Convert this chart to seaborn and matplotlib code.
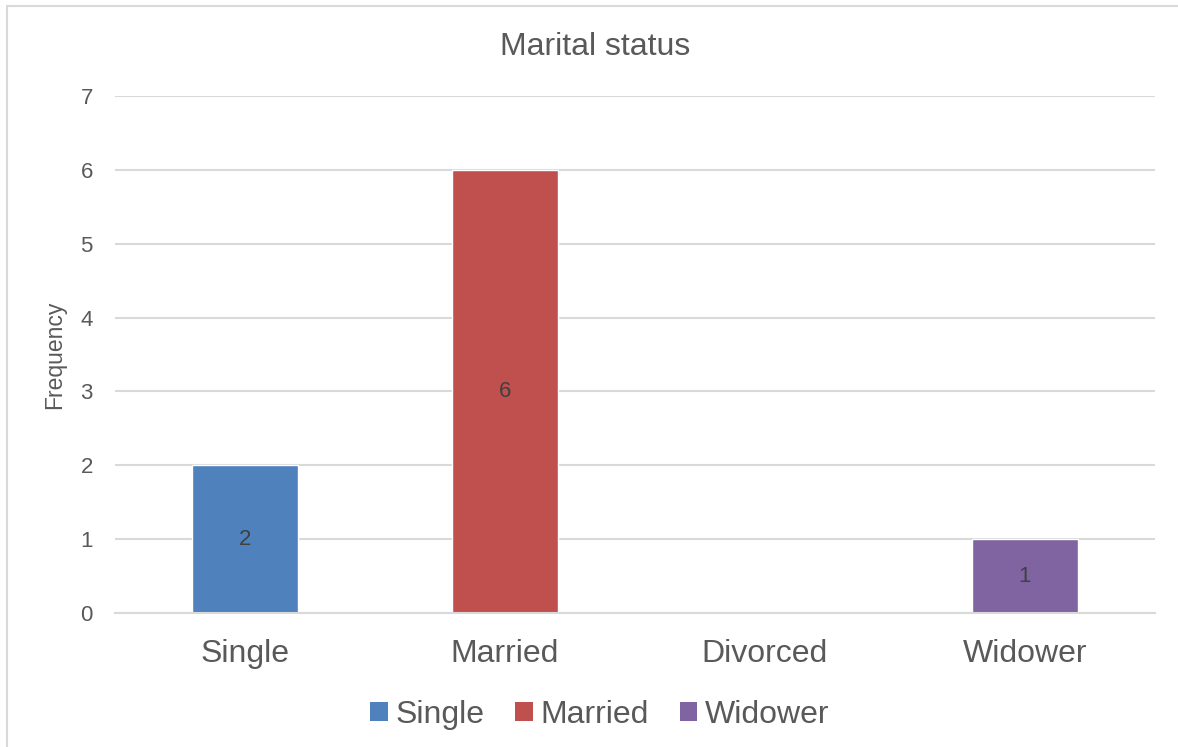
import matplotlib
matplotlib.use("Agg")
import matplotlib.pyplot as plt
import seaborn as sns
import pandas as pd
from matplotlib.patches import Patch, Rectangle

categories = ["Single", "Married", "Divorced", "Widower"]
frequency = [2, 6, 0, 1]
colors = ["#4F81BD", "#C0504D", "#9BBB59", "#8064A2"]
y_ticks = [0, 1, 2, 3, 4, 5, 6, 7]
title = "Marital status"
y_label = "Frequency"

sns.set_theme(style="white")
plt.rcParams["font.family"] = ["Liberation Sans", "DejaVu Sans"]

TXT = "#595959"
GRID = "#D9D9D9"

df = pd.DataFrame({"status": categories, "freq": frequency})

fig = plt.figure(figsize=(11.78, 7.47), dpi=100)
ax = fig.add_axes([115 / 1178, 1 - 613 / 747, 1040 / 1178, (613 - 96) / 747])

sns.barplot(data=df, x="status", y="freq", hue="status", order=categories,
            hue_order=categories, palette=dict(zip(categories, colors)),
            width=0.404, legend=False, ax=ax, saturation=1)

for cont in ax.containers:
    labels = [f"{v:g}" if v > 0 else "" for v in cont.datavalues]
    ax.bar_label(cont, labels=labels, label_type="center", fontsize=16, color="#404040")

ax.set_ylim(0, 7)
ax.set_xlim(-0.5, len(categories) - 0.5)
ax.set_yticks(y_ticks)
ax.yaxis.grid(True, color=GRID, linewidth=1.5)
ax.set_axisbelow(True)
for s in ["top", "right", "left"]:
    ax.spines[s].set_visible(False)
ax.spines["bottom"].set_color(GRID)
ax.spines["bottom"].set_linewidth(1.5)
ax.tick_params(axis="y", length=0, pad=16, labelsize=16, labelcolor=TXT)
ax.tick_params(axis="x", length=0, pad=19, labelsize=23, labelcolor=TXT)
ax.set_xlabel("")
ax.set_ylabel(y_label, fontsize=16.5, color=TXT)
ax.yaxis.set_label_coords((66 - 115) / 1040, 0.5)

fig.text(595 / 1178, 1 - 47 / 747, title, ha="center", va="center", fontsize=23, color=TXT)

handles = [Patch(facecolor=c, edgecolor="none", label=cat)
           for cat, c, v in zip(categories, colors, frequency) if v > 0]
fig.legend(handles=handles, loc="center", bbox_to_anchor=(600 / 1178, 1 - 715 / 747),
           ncol=len(handles), frameon=False, fontsize=23, labelcolor=TXT,
           handlelength=0.55, handleheight=0.55, handletextpad=0.25, columnspacing=0.95)

fig.patches.append(Rectangle((7 / 1178, -0.1), 1.2, 1 - 6 / 747 + 0.1, transform=fig.transFigure,
                             fill=False, edgecolor="#D9D9D9", linewidth=1.5))

fig.savefig("out.png", dpi=100)
